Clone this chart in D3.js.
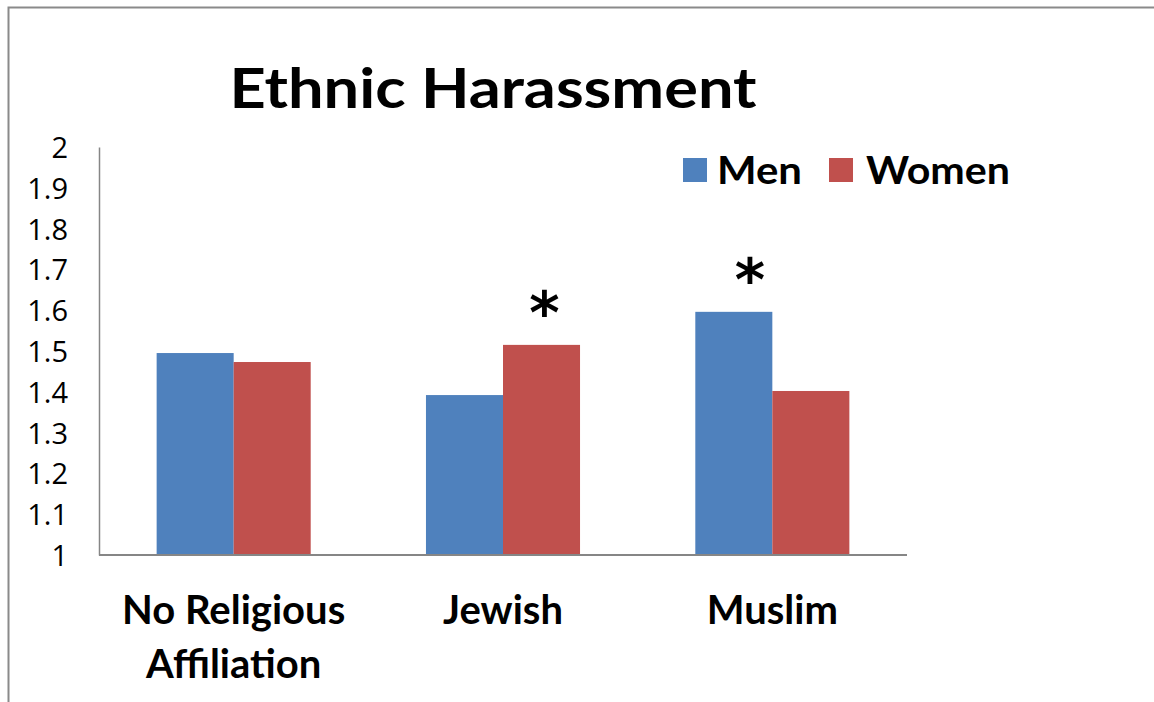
<!DOCTYPE html>
<html>
<head>
<meta charset="utf-8">
<script src="https://cdn.jsdelivr.net/npm/d3@7"></script>
<style>
  html, body { margin: 0; padding: 0; background: #fff; }
  svg { display: block; }
  text { font-family: Lato, "Open Sans", sans-serif; fill: #000; }
</style>
</head>
<body>
<svg id="chart" width="1154" height="702"></svg>
<script>
const categories = ["No Religious Affiliation", "Jewish", "Muslim"];
const categoryLines = [["No Religious", "Affiliation"], ["Jewish"], ["Muslim"]];
const seriesNames = ["Men", "Women"];
const menValues = [1.495, 1.392, 1.596];
const womenValues = [1.473, 1.515, 1.402];
const yTicks = [1, 1.1, 1.2, 1.3, 1.4, 1.5, 1.6, 1.7, 1.8, 1.9, 2];
const significant = [{ category: "Jewish", series: "Women" }, { category: "Muslim", series: "Men" }];
const colors = { Men: "#4F81BD", Women: "#C0504D" };
const title = "Ethnic Harassment";

const svg = d3.select("#chart");

// outer frame (only top/left visible in crop)
svg.append("path")
  .attr("d", "M8.5,702 L8.5,7.5 L1154,7.5")
  .attr("fill", "none").attr("stroke", "#8a8a8a").attr("stroke-width", 2);

const plot = { left: 99, right: 907, top: 147, bottom: 555 };

const y = d3.scaleLinear().domain([1, 2]).range([plot.bottom, plot.top]);
const x0 = d3.scaleBand().domain(categories).range([plot.left, plot.right]).paddingInner(0).paddingOuter(0);
const barW = x0.bandwidth() * 0.286;
const x1 = d3.scaleBand().domain(seriesNames).range([x0.bandwidth() / 2 - barW, x0.bandwidth() / 2 + barW]).padding(0);

const data = categories.map((c, i) => ({ category: c, Men: menValues[i], Women: womenValues[i] }));

// bars
const groups = svg.append("g").selectAll("g").data(data).join("g")
  .attr("transform", d => `translate(${x0(d.category)},0)`);
groups.selectAll("rect").data(d => seriesNames.map(s => ({ series: s, value: d[s] }))).join("rect")
  .attr("x", d => x1(d.series))
  .attr("width", x1.bandwidth())
  .attr("y", d => y(d.value))
  .attr("height", d => y(1) - y(d.value))
  .attr("fill", d => colors[d.series]);

// y axis
const yAxis = d3.axisLeft(y).tickValues(yTicks).tickSize(0).tickPadding(31)
  .tickFormat(d => d3.format("")(Math.round(d * 10) / 10));
const ya = svg.append("g").attr("transform", `translate(${plot.left},0)`).call(yAxis);
ya.attr("font-size", null).attr("font-family", null);
ya.select(".domain").attr("stroke", "#868686").attr("stroke-width", 1.5);
ya.selectAll("text")
  .attr("font-family", "'Open Sans', sans-serif")
  .attr("font-size", 29)
  .style("font-family", "'Open Sans', sans-serif")
  .style("font-size", "29px")
  .attr("dy", "0.36em").attr("fill", "#000");

// x axis
svg.append("line")
  .attr("x1", plot.left).attr("x2", plot.right)
  .attr("y1", y(1)).attr("y2", y(1))
  .attr("stroke", "#868686").attr("stroke-width", 2);

// category labels
const catG = svg.append("g").selectAll("text").data(categories).join("text")
  .attr("x", d => x0(d) + x0.bandwidth() / 2)
  .attr("y", 624)
  .attr("text-anchor", "middle")
  .style("font-weight", "bold").style("font-size", "40px");
catG.selectAll("tspan").data((d, i) => categoryLines[i]).join("tspan")
  .attr("x", function () { return d3.select(this.parentNode).attr("x"); })
  .attr("dy", (d, i) => i === 0 ? 0 : 54)
  .text(d => d);

// significance asterisks
const starOffset = { Jewish: 3, Muslim: 16 };
svg.append("g").selectAll("text").data(significant).join("text")
  .attr("x", d => x0(d.category) + x1(d.series) + x1.bandwidth() / 2 + starOffset[d.category])
  .attr("y", d => y(data.find(r => r.category === d.category)[d.series]) - 12)
  .attr("text-anchor", "middle")
  .style("font-weight", "bold").style("font-size", "58px")
  .style("font-family", "'DejaVu Sans', sans-serif")
  .text("*");

// title
svg.append("text")
  .attr("x", 493).attr("y", 108)
  .attr("text-anchor", "middle")
  .style("font-weight", "bold").style("font-size", "56px")
  .attr("textLength", 527).attr("lengthAdjust", "spacingAndGlyphs")
  .text(title);

// legend
const legendItems = [
  { name: "Men", sx: 683, tx: 717, tw: 85 },
  { name: "Women", sx: 829, tx: 866, tw: 144 }
];
const lg = svg.append("g").selectAll("g").data(legendItems).join("g");
lg.append("rect").attr("x", d => d.sx).attr("y", 158).attr("width", 24).attr("height", 24)
  .attr("fill", d => colors[d.name]);
lg.append("text").attr("x", d => d.tx).attr("y", 184)
  .style("font-weight", "bold").style("font-size", "38px")
  .attr("textLength", d => d.tw).attr("lengthAdjust", "spacingAndGlyphs")
  .text(d => d.name);
</script>
</body>
</html>
